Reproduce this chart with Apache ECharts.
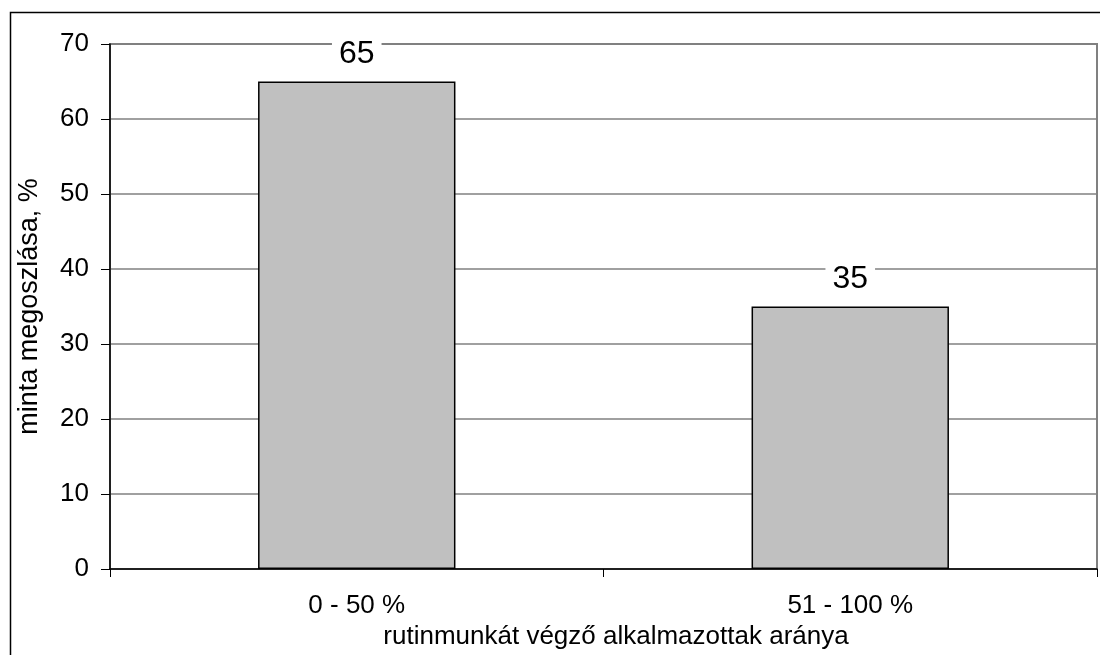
<!DOCTYPE html>
<html>
<head>
<meta charset="utf-8">
<script src="https://cdn.jsdelivr.net/npm/echarts@6/dist/echarts.min.js"></script>
<style>
html,body{margin:0;padding:0;background:#fff;}
#c{width:1100px;height:655px;}
</style>
</head>
<body>
<div id="c"></div>
<script>
const categories = ['0 - 50 %', '51 - 100 %'];
const values = [65, 35];
const yName = 'minta megoszlása, %';
const xName = 'rutinmunkát végző alkalmazottak aránya';

const font = '"Liberation Sans", Arial, sans-serif';
const chart = echarts.init(document.getElementById('c'), null, {renderer: 'canvas'});
chart.setOption({
  animation: false,
  backgroundColor: '#fff',
  graphic: [{
    type: 'rect', z: 100, silent: true,
    shape: {x: 10.5, y: 12.5, width: 1200, height: 800},
    style: {fill: 'none', stroke: '#000', lineWidth: 1.5}
  }],
  grid: {left: 110, right: 3, top: 44, bottom: 86, containLabel: false, outerBoundsMode: 'none',
    show: true, borderColor: '#808080', borderWidth: 2, backgroundColor: '#fff'},
  xAxis: {
    type: 'category', data: categories, boundaryGap: true,
    axisLine: {lineStyle: {color: '#000', width: 1.5}},
    axisTick: {show: true, interval: 0, length: 8, lineStyle: {color: '#000'}},
    axisLabel: {fontFamily: font, fontSize: 26, color: '#000', margin: 24},
    name: xName, nameLocation: 'middle', nameGap: 54,
    nameTextStyle: {fontFamily: font, fontSize: 26, color: '#000', padding: [0, 0, 0, 25]}
  },
  yAxis: {
    type: 'value', min: 0, max: 70, interval: 10,
    axisLine: {show: true, lineStyle: {color: '#000', width: 1.5}},
    axisTick: {show: true, length: 9, lineStyle: {color: '#000'}},
    axisLabel: {fontFamily: font, fontSize: 26, color: '#000', margin: 21},
    splitLine: {show: true, lineStyle: {color: '#808080', width: 1.5}},
    name: yName, nameLocation: 'middle', nameGap: 67, nameRotate: 90,
    nameTextStyle: {fontFamily: font, fontSize: 27, color: '#000'}
  },
  series: [{
    type: 'bar', data: values, barWidth: '40%',
    itemStyle: {color: '#C0C0C0', borderColor: '#000', borderWidth: 1.5},
    label: {show: true, position: 'top', distance: 11, fontFamily: font, fontSize: 32, color: '#000',
      backgroundColor: '#fff', padding: [0, 7]}
  }]
});
</script>
</body>
</html>
